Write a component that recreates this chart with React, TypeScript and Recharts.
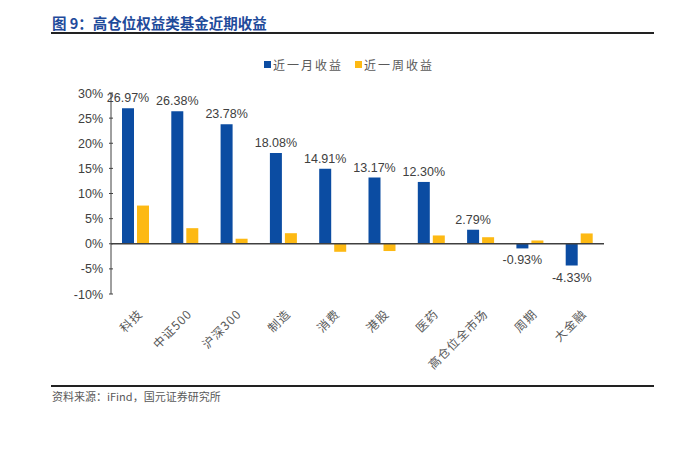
import { BarChart, Bar, XAxis, YAxis, ReferenceLine, LabelList } from 'recharts';

const categories: string[] = ['科技', '中证500', '沪深300', '制造', '消费', '港股', '医药', '高仓位全市场', '周期', '大金融'];
const monthReturn: number[] = [26.97, 26.38, 23.78, 18.08, 14.91, 13.17, 12.3, 2.79, -0.93, -4.33];
const weekReturn: number[] = [7.6, 3.1, 1.0, 2.1, -1.6, -1.45, 1.65, 1.3, 0.65, 2.05];
const yTicks: number[] = [-10, -5, 0, 5, 10, 15, 20, 25, 30];

const BLUE = '#0b4ca2';
const YELLOW = '#fdb913';

const data = categories.map((name, i) => ({
    name,
    month: monthReturn[i],
    week: weekReturn[i],
}));

const ValueLabel = (props: any) => {
    const { x, y, width, height, value } = props;
    const top = Math.min(y, y + height);
    const bottom = Math.max(y, y + height);
    const ty = value < 0 ? bottom + 16 : top - 6;
    return (
        <text
            x={x + width / 2}
            y={ty}
            textAnchor="middle"
            fontSize={12.5}
            fontFamily="Liberation Sans, Arial, sans-serif"
            fill="#404040"
        >
            {value.toFixed(2)}%
        </text>
    );
};

const CategoryTick = (props: any) => {
    const { x, y, payload } = props;
    return (
        <g transform={`translate(${x + 5},${y + 10})`}>
            <text
                transform="rotate(-45)"
                textAnchor="end"
                fontSize={12}
                fontFamily="Noto Sans CJK SC, sans-serif"
                fill="#595959"
                dy={4}
                letterSpacing={1}
            >
                {payload.value}
            </text>
        </g>
    );
};

// y tick: label on the left, short tick mark pointing into the plot
const PercentTick = (props: any) => {
    const { x, y, payload } = props;
    return (
        <g>
            <line x1={x} x2={x + 4} y1={y} y2={y} stroke="#404040" />
            <text
                x={x - 6}
                y={y}
                dy={4.5}
                textAnchor="end"
                fontSize={12.5}
                fontFamily="Liberation Sans, Arial, sans-serif"
                fill="#404040"
            >
                {payload.value}%
            </text>
        </g>
    );
};

const LegendBox = () => (
    <div
        style={{
            position: 'absolute',
            left: 264,
            top: 56,
            display: 'flex',
            alignItems: 'center',
            fontFamily: 'Noto Sans CJK SC, sans-serif',
            fontSize: 12,
            color: '#595959',
            letterSpacing: 2,
        }}
    >
        <span style={{ width: 7, height: 7, background: BLUE, display: 'inline-block', marginRight: 2 }} />
        <span style={{ marginRight: 12 }}>近一月收益</span>
        <span style={{ width: 7, height: 7, background: YELLOW, display: 'inline-block', marginRight: 2 }} />
        <span>近一周收益</span>
    </div>
);

export default function App() {
    return (
        <div style={{ position: 'absolute', left: 0, top: 0, width: 700, height: 468, background: '#fff' }}>
            <div
                style={{
                    position: 'absolute',
                    left: 52,
                    top: 12,
                    fontFamily: 'Noto Sans CJK SC, sans-serif',
                    fontWeight: 700,
                    fontSize: 14.5,
                    color: '#1f4b9b',
                }}
            >
                图 9：高仓位权益类基金近期收益
            </div>
            <div style={{ position: 'absolute', left: 51, top: 32, width: 603, height: 2, background: '#222' }} />
            <LegendBox />
            <div style={{ position: 'absolute', left: 0, top: 0 }}>
                <BarChart
                    width={700}
                    height={468}
                    data={data}
                    margin={{ top: 93, right: 96, left: 0, bottom: 94 }}
                    barGap={3}
                    barSize={12}
                >
                    <XAxis dataKey="name" axisLine={false} tickLine={false} tick={<CategoryTick />} interval={0} height={80} />
                    <YAxis
                        width={111}
                        domain={[-10, 30]}
                        ticks={yTicks}
                        axisLine={{ stroke: '#404040', strokeWidth: 1 }}
                        tickLine={false}
                        tickSize={0}
                        tick={<PercentTick />}
                    />
                    <Bar dataKey="month" fill={BLUE} isAnimationActive={false}>
                        <LabelList dataKey="month" content={<ValueLabel />} />
                    </Bar>
                    <Bar dataKey="week" fill={YELLOW} isAnimationActive={false} />
                    <ReferenceLine y={0} stroke="#404040" strokeWidth={1.5} />
                </BarChart>
            </div>
            <div style={{ position: 'absolute', left: 51, top: 385, width: 603, height: 2, background: '#222' }} />
            <div
                style={{
                    position: 'absolute',
                    left: 52,
                    top: 388,
                    fontFamily: 'Noto Sans CJK SC, sans-serif',
                    fontSize: 11,
                    color: '#595959',
                }}
            >
                资料来源：iFind，国元证券研究所
            </div>
        </div>
    );
}
